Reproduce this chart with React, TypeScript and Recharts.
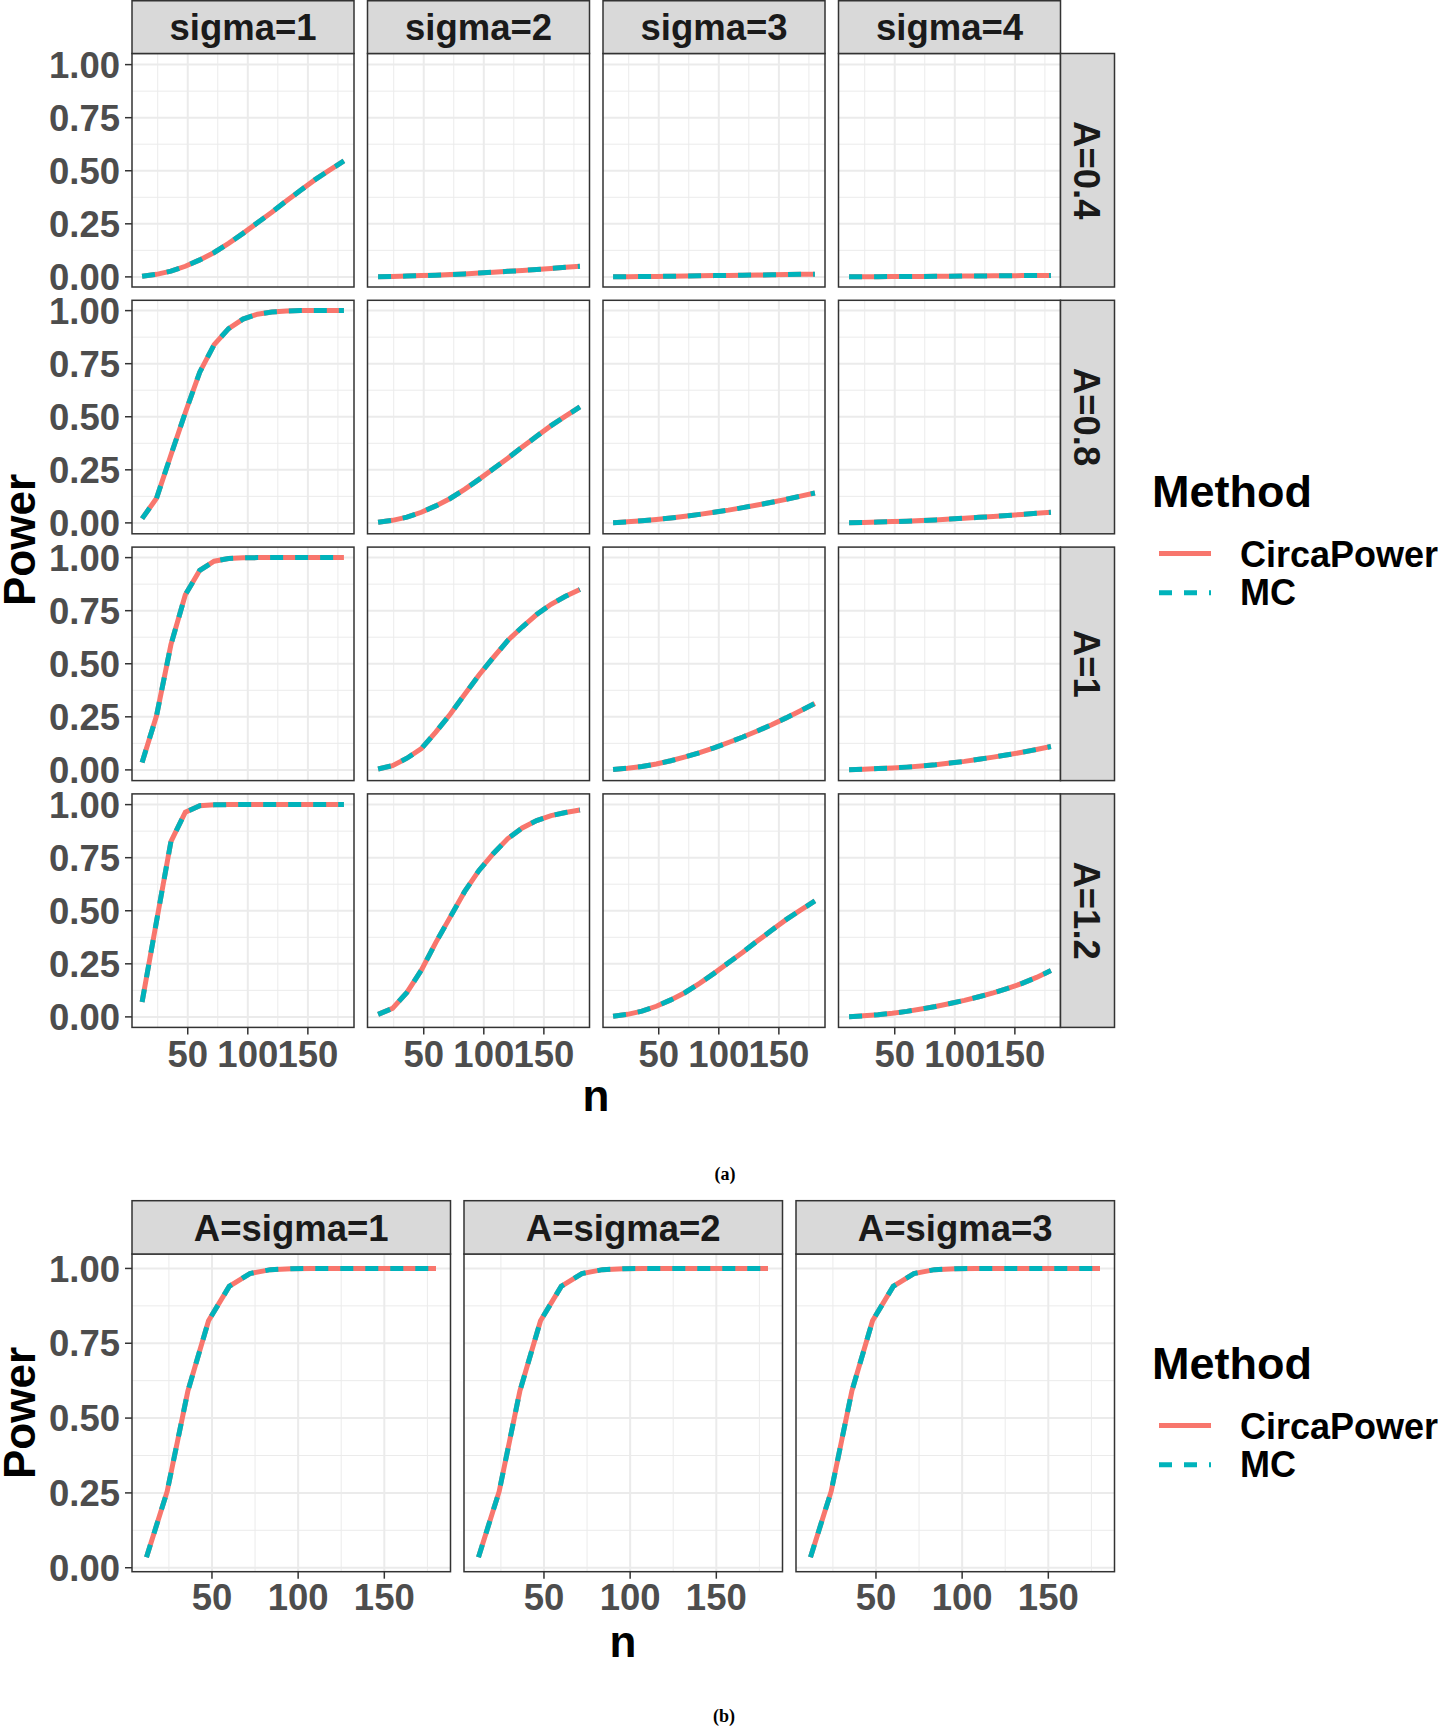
import { LineChart, Line, XAxis, YAxis, CartesianGrid } from "recharts";

// sample sizes on the x axis
const N = [12, 24, 36, 48, 60, 72, 84, 96, 108, 120, 132, 144, 156, 168, 180];

const SIGMA_LABELS = ["sigma=1", "sigma=2", "sigma=3", "sigma=4"];
const A_LABELS = ["A=0.4", "A=0.8", "A=1", "A=1.2"];
const B_LABELS = ["A=sigma=1", "A=sigma=2", "A=sigma=3"];
const METHODS = ["CircaPower", "MC"];

const Y_TICKS = [0, 0.25, 0.5, 0.75, 1];
const Y_MINOR = [0.125, 0.375, 0.625, 0.875];
const X_TICKS = [50, 100, 150];
const X_MINOR = [25, 75, 125, 175];

// power. panels with the same A/sigma show the same curve,
// and CircaPower and MC sit on top of each other everywhere
const POWER_R120 = [0.07, 0.45, 0.826, 0.964, 0.995, 0.999, 1, 1, 1, 1, 1, 1, 1, 1, 1];
const POWER_R100 = [0.035, 0.255, 0.59, 0.825, 0.94, 0.983, 0.996, 0.999, 1, 1, 1, 1, 1, 1, 1];
const POWER_R080 = [0.02, 0.116, 0.32, 0.52, 0.71, 0.84, 0.915, 0.96, 0.983, 0.993, 0.998, 1, 1, 1, 1];
const POWER_R060 = [0.012, 0.04, 0.115, 0.22, 0.35, 0.47, 0.59, 0.69, 0.77, 0.84, 0.89, 0.925, 0.948, 0.963, 0.975];
const POWER_R050 = [0.004, 0.02, 0.055, 0.1, 0.178, 0.262, 0.355, 0.447, 0.53, 0.61, 0.673, 0.732, 0.78, 0.818, 0.85];
const POWER_R040 = [0.003, 0.012, 0.027, 0.05, 0.08, 0.115, 0.158, 0.205, 0.255, 0.305, 0.357, 0.408, 0.458, 0.503, 0.546];
const POWER_R033 = [0.002, 0.008, 0.016, 0.028, 0.043, 0.061, 0.081, 0.104, 0.129, 0.155, 0.183, 0.213, 0.245, 0.279, 0.313];
const POWER_R030 = [0.001, 0.005, 0.01, 0.017, 0.026, 0.037, 0.049, 0.063, 0.078, 0.095, 0.113, 0.134, 0.158, 0.186, 0.218];
const POWER_R027 = [0.001, 0.005, 0.01, 0.016, 0.023, 0.031, 0.04, 0.05, 0.06, 0.072, 0.084, 0.097, 0.111, 0.126, 0.141];
const POWER_R025 = [0.001, 0.003, 0.006, 0.009, 0.013, 0.018, 0.024, 0.032, 0.04, 0.05, 0.06, 0.071, 0.083, 0.096, 0.11];
const POWER_R020 = [0.001, 0.002, 0.004, 0.006, 0.008, 0.011, 0.014, 0.018, 0.022, 0.026, 0.03, 0.035, 0.04, 0.045, 0.05];
const POWER_R013 = [0.001, 0.001, 0.002, 0.002, 0.003, 0.004, 0.005, 0.006, 0.007, 0.008, 0.009, 0.01, 0.011, 0.012, 0.013];
const POWER_R010 = [0.001, 0.001, 0.001, 0.002, 0.002, 0.002, 0.003, 0.003, 0.004, 0.004, 0.005, 0.005, 0.006, 0.006, 0.007];

// rows = A, cols = sigma
const GRID_A = [
  [POWER_R040, POWER_R020, POWER_R013, POWER_R010],
  [POWER_R080, POWER_R040, POWER_R027, POWER_R020],
  [POWER_R100, POWER_R050, POWER_R033, POWER_R025],
  [POWER_R120, POWER_R060, POWER_R040, POWER_R030],
];
const GRID_B = [POWER_R100, POWER_R100, POWER_R100];

const RED = "#F8766D";
const TEAL = "#00B3BB";
const FONT = "'Liberation Sans', Arial, Helvetica, sans-serif";
const TICK_FS = 36.5;

// ggplot style 5% expansion
const expand = (lo: number, hi: number): [number, number] => {
  const pad = (hi - lo) * 0.05;
  return [lo - pad, hi + pad];
};
const X_DOMAIN = expand(Math.min(...N), Math.max(...N));
const Y_DOMAIN_A = expand(0, 1);
const bValues = GRID_B.flat();
const Y_DOMAIN_B = expand(Math.min(...bValues), Math.max(...bValues));

// layout (page px)
const A_LEFTS = [132, 367.5, 603, 838.5];
const A_TOPS = [53.5, 300.3, 547.1, 793.9];
const A_W = 222;
const A_H = 233.5;
const B_LEFTS = [132, 464, 796];
const B_TOP = 1254;
const B_W = 318.5;
const B_H = 317.7;
const PAD = 16; // room so edge tick labels are not clipped by the chart svg

const toRows = (p: number[]) => N.map((n, i) => ({ n, circa: p[i], mc: p[i] }));

const XTick = (props: any) => (
  <text
    x={props.x}
    y={props.y}
    dy="0.71em"
    textAnchor="middle"
    fill="#4d4d4d"
    fontSize={TICK_FS}
    fontWeight="bold"
    fontFamily={FONT}
  >
    {props.payload.value}
  </text>
);

const YTick = (props: any) => (
  <text
    x={props.x}
    y={props.y}
    dy="0.36em"
    textAnchor="end"
    fill="#4d4d4d"
    fontSize={TICK_FS}
    fontWeight="bold"
    fontFamily={FONT}
  >
    {Number(props.payload.value).toFixed(2)}
  </text>
);

function Panel({
  values,
  left,
  top,
  w,
  h,
  yDomain,
  showY,
  showX,
  xTickMargin,
}: {
  values: number[];
  left: number;
  top: number;
  w: number;
  h: number;
  yDomain: [number, number];
  showY: boolean;
  showX: boolean;
  xTickMargin: number;
}) {
  const yw = showY ? left : 0;
  const xh = showX ? 60 : 0;
  return (
    <div style={{ position: "absolute", left: left - yw, top: top - PAD }}>
      <LineChart
        width={w + yw}
        height={h + xh + PAD * 2}
        data={toRows(values)}
        margin={{ top: PAD, right: 0, bottom: PAD, left: 0 }}
      >
        <CartesianGrid
          stroke="#ebebeb"
          strokeWidth={1}
          horizontalValues={Y_MINOR}
          verticalValues={X_MINOR}
        />
        <CartesianGrid
          stroke="#ebebeb"
          strokeWidth={2}
          horizontalValues={Y_TICKS}
          verticalValues={X_TICKS}
        />
        <XAxis
          dataKey="n"
          type="number"
          domain={X_DOMAIN}
          allowDataOverflow
          ticks={X_TICKS}
          interval={0}
          hide={!showX}
          height={xh}
          axisLine={false}
          tickSize={7}
          tickMargin={xTickMargin}
          tickLine={{ stroke: "#333333", strokeWidth: 1.5 }}
          tick={XTick}
        />
        <YAxis
          type="number"
          domain={yDomain}
          allowDataOverflow
          ticks={Y_TICKS}
          interval={0}
          hide={!showY}
          width={yw}
          axisLine={false}
          tickSize={7}
          tickMargin={5}
          tickLine={{ stroke: "#333333", strokeWidth: 1.5 }}
          tick={YTick}
        />
        <Line
          type="linear"
          dataKey="circa"
          name={METHODS[0]}
          stroke={RED}
          strokeWidth={5}
          dot={false}
          activeDot={false}
          isAnimationActive={false}
        />
        <Line
          type="linear"
          dataKey="mc"
          name={METHODS[1]}
          stroke={TEAL}
          strokeWidth={5}
          strokeDasharray="13 12"
          dot={false}
          activeDot={false}
          isAnimationActive={false}
        />
      </LineChart>
    </div>
  );
}

function MethodLegend({ dy }: { dy: number }) {
  return (
    <g transform={`translate(0, ${dy})`} fontFamily={FONT} fontWeight="bold" fill="#000">
      <text x={1152} y={507} fontSize={45}>
        Method
      </text>
      <line x1={1159} x2={1211} y1={553.5} y2={553.5} stroke={RED} strokeWidth={5} />
      <text x={1240} y={567} fontSize={36}>
        {METHODS[0]}
      </text>
      <line
        x1={1159}
        x2={1211}
        y1={592.7}
        y2={592.7}
        stroke={TEAL}
        strokeWidth={5}
        strokeDasharray="13 12"
      />
      <text x={1240} y={605} fontSize={36}>
        {METHODS[1]}
      </text>
    </g>
  );
}

export default function App() {
  return (
    <div
      style={{
        position: "absolute",
        left: 0,
        top: 0,
        width: 1438,
        height: 1729,
        background: "#fff",
        fontFamily: FONT,
      }}
    >
      {/* (a) 4x4 facets */}
      {GRID_A.map((row, r) =>
        row.map((vals, c) => (
          <Panel
            key={`a-${r}-${c}`}
            values={vals}
            left={A_LEFTS[c]}
            top={A_TOPS[r]}
            w={A_W}
            h={A_H}
            yDomain={Y_DOMAIN_A}
            showY={c === 0}
            showX={r === GRID_A.length - 1}
            xTickMargin={7}
          />
        ))
      )}

      {/* (b) 1x3 facets */}
      {GRID_B.map((vals, c) => (
        <Panel
          key={`b-${c}`}
          values={vals}
          left={B_LEFTS[c]}
          top={B_TOP}
          w={B_W}
          h={B_H}
          yDomain={Y_DOMAIN_B}
          showY={c === 0}
          showX
          xTickMargin={5}
        />
      ))}

      <svg
        width={1438}
        height={1729}
        style={{ position: "absolute", left: 0, top: 0, pointerEvents: "none" }}
      >
        {/* panel borders */}
        {A_TOPS.map((t) =>
          A_LEFTS.map((l) => (
            <rect key={`ba-${t}-${l}`} x={l} y={t} width={A_W} height={A_H} fill="none" stroke="#333333" strokeWidth={1.5} />
          ))
        )}
        {B_LEFTS.map((l) => (
          <rect key={`bb-${l}`} x={l} y={B_TOP} width={B_W} height={B_H} fill="none" stroke="#333333" strokeWidth={1.5} />
        ))}

        {/* top strips (a) */}
        {SIGMA_LABELS.map((lab, c) => (
          <g key={lab}>
            <rect x={A_LEFTS[c]} y={0.75} width={A_W} height={A_TOPS[0] - 0.75} fill="#d9d9d9" stroke="#333333" strokeWidth={1.5} />
            <text x={A_LEFTS[c] + A_W / 2} y={39.5} textAnchor="middle" fontSize={TICK_FS} fontWeight="bold" fill="#1a1a1a" fontFamily={FONT}>
              {lab}
            </text>
          </g>
        ))}

        {/* right strips (a) */}
        {A_LABELS.map((lab, r) => (
          <g key={lab}>
            <rect x={A_LEFTS[3] + A_W} y={A_TOPS[r]} width={54} height={A_H} fill="#d9d9d9" stroke="#333333" strokeWidth={1.5} />
            <text
              transform={`translate(${A_LEFTS[3] + A_W + 27}, ${A_TOPS[r] + A_H / 2}) rotate(90)`}
              dy="0.36em"
              textAnchor="middle"
              fontSize={TICK_FS}
              fontWeight="bold"
              fill="#1a1a1a"
              fontFamily={FONT}
            >
              {lab}
            </text>
          </g>
        ))}

        {/* top strips (b) */}
        {B_LABELS.map((lab, c) => (
          <g key={lab}>
            <rect x={B_LEFTS[c]} y={1200.7} width={B_W} height={B_TOP - 1200.7} fill="#d9d9d9" stroke="#333333" strokeWidth={1.5} />
            <text x={B_LEFTS[c] + B_W / 2} y={1240.5} textAnchor="middle" fontSize={TICK_FS} fontWeight="bold" fill="#1a1a1a" fontFamily={FONT}>
              {lab}
            </text>
          </g>
        ))}

        {/* axis titles */}
        <g fontFamily={FONT} fontWeight="bold" fill="#000" fontSize={44}>
          <text transform="translate(35, 540) rotate(-90)" textAnchor="middle">
            Power
          </text>
          <text x={596} y={1111} textAnchor="middle">
            n
          </text>
          <text transform="translate(35, 1413) rotate(-90)" textAnchor="middle">
            Power
          </text>
          <text x={623} y={1657} textAnchor="middle">
            n
          </text>
        </g>

        <MethodLegend dy={0} />
        <MethodLegend dy={872} />

        {/* sub-figure captions */}
        <g fontFamily="'Liberation Serif', 'Times New Roman', serif" fontWeight="bold" fontSize={18} fill="#000">
          <text x={725} y={1180} textAnchor="middle">
            (a)
          </text>
          <text x={724} y={1722} textAnchor="middle">
            (b)
          </text>
        </g>
      </svg>
    </div>
  );
}
